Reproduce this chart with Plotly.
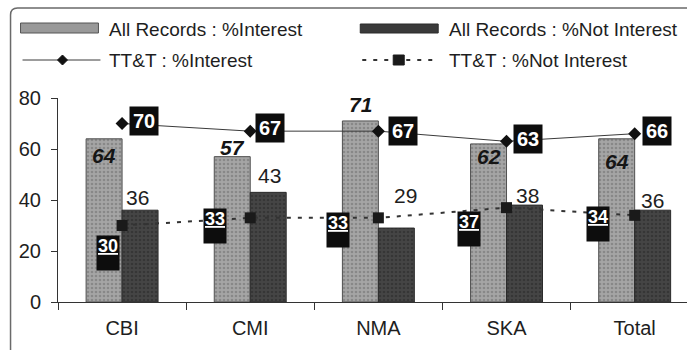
import plotly.graph_objects as go

# ---- data -------------------------------------------------------------
categories = ["CBI", "CMI", "NMA", "SKA", "Total"]
all_interest = [64, 57, 71, 62, 64]
all_not_interest = [36, 43, 29, 38, 36]
ttt_interest = [70, 67, 67, 63, 66]
ttt_not_interest = [30, 33, 33, 37, 34]
series_names = [
    "All Records : %Interest",
    "All Records : %Not Interest",
    "TT&T : %Interest",
    "TT&T : %Not Interest",
]
y_ticks = [0, 20, 40, 60, 80]

# ---- geometry (pixels) ------------------------------------------------
W, H = 687, 350
ML, MR, MT, MB = 57.5, 0, 98, 48
PW, PH = W - ML - MR, H - MT - MB
SLOT = 128.25                     # pixel width of one category slot
BAR_HALF = 18                     # half of one bar's width in pixels
x_range = [-0.5, -0.5 + PW / SLOT]

FONT = "Arial, Liberation Sans, sans-serif"
INK = "#1e1e1e"


def px(xp):
    return (xp - ML) / PW


def py(yp):
    return (H - MB - yp) / PH


# label offsets (pixels, +y is up)
interest_dy = [-17, 9, 16, -13, -23]
not_interest_dx = [-3, 1, 9, 3, 0]
not_interest_dy = [13, 17, 33, 10, 10]
ttt_int_dx = [22, 20, 25, 21, 22]
ttt_int_dy = [3, 3, 0, 2, 3]
ttt_not_dx = [-14, -35, -40, -38, -37]
ttt_not_dy = [-27, -8, -12, -21, -9]

fig = go.Figure()

fig.add_trace(go.Bar(
    x=categories, y=all_interest, name=series_names[0],
    marker=dict(
        color="#a0a0a0",
        pattern=dict(shape=".", fgcolor="#6c6c6c", bgcolor="#a5a5a5",
                     size=4, solidity=0.35),
        line=dict(color="#505050", width=1),
    ),
    hoverinfo="skip",
))
fig.add_trace(go.Bar(
    x=categories, y=all_not_interest, name=series_names[1],
    marker=dict(
        color="#3e3e3e",
        pattern=dict(shape=".", fgcolor="#262626", bgcolor="#454545",
                     size=4, solidity=0.3),
        line=dict(color="#2a2a2a", width=1),
    ),
    hoverinfo="skip",
))
fig.add_trace(go.Scatter(
    x=categories, y=ttt_interest, name=series_names[2],
    mode="lines+markers",
    line=dict(color="#3a3a3a", width=1),
    marker=dict(symbol="diamond", size=10, color="#111111"),
    hoverinfo="skip",
))
fig.add_trace(go.Scatter(
    x=categories, y=ttt_not_interest, name=series_names[3],
    mode="lines+markers",
    line=dict(color="#333333", width=2, dash="4px,7px"),
    marker=dict(symbol="square", size=11, color="#1a1a1a"),
    hoverinfo="skip",
))

annotations = []
for i, c in enumerate(categories):
    # bold italic labels of the light bars
    annotations.append(dict(
        x=c, y=all_interest[i], xref="x", yref="y",
        text=f"<b><i>{all_interest[i]}</i></b>", showarrow=False,
        xshift=-BAR_HALF, yshift=interest_dy[i],
        font=dict(family=FONT, size=21, color="#151515"),
    ))
    # plain labels of the dark bars
    annotations.append(dict(
        x=c, y=all_not_interest[i], xref="x", yref="y",
        text=str(all_not_interest[i]), showarrow=False,
        xshift=BAR_HALF + not_interest_dx[i], yshift=not_interest_dy[i],
        font=dict(family=FONT, size=21, color=INK),
    ))
    # boxed labels of the solid line
    annotations.append(dict(
        x=c, y=ttt_interest[i], xref="x", yref="y",
        text=f"<b>{ttt_interest[i]}</b>", showarrow=False,
        xshift=ttt_int_dx[i], yshift=ttt_int_dy[i],
        bgcolor="#0d0d0d", borderpad=3,
        font=dict(family=FONT, size=20, color="white"),
    ))
    # boxed labels of the dotted line
    annotations.append(dict(
        x=c, y=ttt_not_interest[i], xref="x", yref="y",
        text=f"<b><u>{ttt_not_interest[i]}</u></b>", showarrow=False,
        xshift=ttt_not_dx[i], yshift=ttt_not_dy[i],
        bgcolor="#0d0d0d", borderpad=0, width=22, height=34, valign="top",
        font=dict(family=FONT, size=18, color="white"),
    ))

# legend, drawn as a two-column key above the plot
legend_rows = [29, 60]
legend_text_x = [107, 447]
for k, name in enumerate(series_names):
    r, col = divmod(k, 2)
    annotations.append(dict(
        x=px(legend_text_x[col]), y=py(legend_rows[r]), xref="paper", yref="paper",
        text=name, showarrow=False, xanchor="left", yanchor="middle",
        font=dict(family=FONT, size=19, color=INK),
    ))

shapes = [
    # frame of the chart area
    dict(type="path", xref="paper", yref="paper",
         path=(f"M {px(10)},{py(355)} L {px(10)},{py(15)} "
               f"Q {px(10)},{py(8)} {px(17)},{py(8)} L {px(700)},{py(8)}"),
         line=dict(color="#6a6a6a", width=1.5)),
    # key swatches
    dict(type="rect", xref="paper", yref="paper",
         x0=px(20), x1=px(98), y0=py(33), y1=py(23),
         fillcolor="#999999", line=dict(color="#555555", width=1)),
    dict(type="rect", xref="paper", yref="paper",
         x0=px(360), x1=px(438), y0=py(33), y1=py(24),
         fillcolor="#3a3a3a", line=dict(color="#2a2a2a", width=1)),
    dict(type="line", xref="paper", yref="paper",
         x0=px(22), x1=px(100), y0=py(60), y1=py(60),
         line=dict(color="#3a3a3a", width=1)),
    dict(type="path", xref="paper", yref="paper",
         path=(f"M {px(62)},{py(55)} L {px(67)},{py(60)} "
               f"L {px(62)},{py(65)} L {px(57)},{py(60)} Z"),
         fillcolor="#111111", line=dict(color="#111111", width=1)),
    dict(type="line", xref="paper", yref="paper",
         x0=px(362), x1=px(438), y0=py(60), y1=py(60),
         line=dict(color="#333333", width=2, dash="4px,7px")),
    dict(type="rect", xref="paper", yref="paper",
         x0=px(393), x1=px(404), y0=py(65), y1=py(55),
         fillcolor="#1a1a1a", line=dict(color="#1a1a1a", width=1)),
]

fig.update_layout(
    width=W, height=H,
    margin=dict(l=ML, r=MR, t=MT, b=MB, pad=0),
    paper_bgcolor="white", plot_bgcolor="white",
    barmode="group", bargap=1 - 4 * BAR_HALF / SLOT, bargroupgap=0,
    showlegend=False,
    annotations=annotations,
    shapes=shapes,
    font=dict(family=FONT, color=INK),
)
fig.update_xaxes(
    type="category", range=x_range,
    showline=True, linecolor="#333333", linewidth=1,
    ticks="outside", ticklen=7, tickcolor="#333333", tickson="boundaries",
    tickfont=dict(family=FONT, size=20, color=INK),
    ticklabelstandoff=8,
    showgrid=False, zeroline=False, fixedrange=True,
)
fig.update_yaxes(
    range=[0, 80], tickvals=y_ticks,
    showline=True, linecolor="#333333", linewidth=1,
    ticks="outside", ticklen=6, tickcolor="#333333",
    tickfont=dict(family=FONT, size=20, color=INK),
    ticklabelstandoff=6,
    showgrid=False, zeroline=False, fixedrange=True,
)

fig.write_html("out.html", config={"displayModeBar": False})
